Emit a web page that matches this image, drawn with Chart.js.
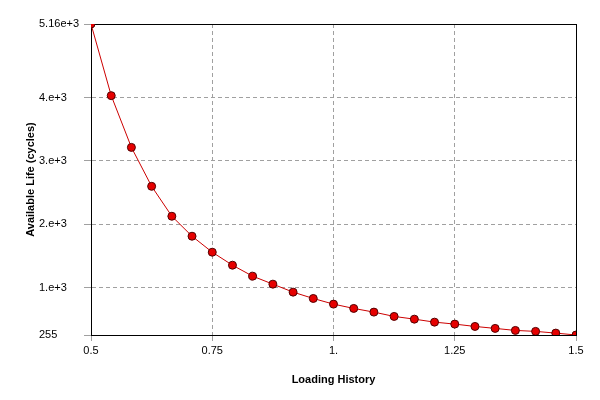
<!DOCTYPE html>
<html>
<head>
<meta charset="utf-8">
<script src="https://cdn.jsdelivr.net/npm/chart.js@4"></script>
<style>
  html, body { margin: 0; padding: 0; background: #fff; }
  #wrap { width: 600px; height: 400px; }
</style>
</head>
<body>
<div id="wrap"><canvas id="lifeChart"></canvas></div>
<script>
"use strict";

/* Data */
const loadingHistory = [0.5, 0.5417, 0.5833, 0.625, 0.6667, 0.7083, 0.75, 0.7917, 0.8333,
  0.875, 0.9167, 0.9583, 1.0, 1.0417, 1.0833, 1.125, 1.1667, 1.2083, 1.25, 1.2917,
  1.3333, 1.375, 1.4167, 1.4583, 1.5];
const availableLife = [5160, 4030, 3214, 2600, 2128, 1813, 1561, 1356, 1183, 1057, 931, 831,
  742, 674, 616, 548, 505, 458, 427, 390, 359, 327, 312, 285, 255];

const xTicks = [0.5, 0.75, 1, 1.25, 1.5];
const xTickLabels = ["0.5", "0.75", "1.", "1.25", "1.5"];
const yTicks = [255, 1000, 2000, 3000, 4000, 5160];
const yTickLabels = ["255", "1.e+3", "2.e+3", "3.e+3", "4.e+3", "5.16e+3"];

/* Black frame round the plot area */
const framePlugin = {
  id: "frame",
  beforeDatasetsDraw(chart) {
    const a = chart.chartArea;
    const ctx = chart.ctx;
    ctx.save();
    ctx.strokeStyle = "#000";
    ctx.lineWidth = 1;
    ctx.strokeRect(a.left + 0.5, a.top + 0.5, a.right - a.left, a.bottom - a.top);
    ctx.restore();
  }
};

function edgeTransparent(ticks) {
  return ctx => {
    const v = ctx.tick ? ctx.tick.value : null;
    return (v === ticks[0] || v === ticks[ticks.length - 1]) ? "rgba(0,0,0,0)" : "#a0a0a0";
  };
}

const points = loadingHistory.map((x, i) => ({ x: x, y: availableLife[i] }));

new Chart(document.getElementById("lifeChart"), {
  type: "line",
  data: {
    datasets: [{
      data: points,
      borderColor: "#cc0000",
      borderWidth: 1,
      backgroundColor: "#e60000",
      pointBackgroundColor: "#e60000",
      pointBorderColor: "#500000",
      pointBorderWidth: 1,
      pointRadius: 4,
      tension: 0
    }]
  },
  options: {
    responsive: true,
    maintainAspectRatio: false,
    animation: false,
    layout: { padding: { top: 24, right: 24, left: 39, bottom: 0 } },
    plugins: {
      legend: { display: false },
      tooltip: { enabled: false }
    },
    scales: {
      x: {
        type: "linear",
        min: 0.5,
        max: 1.5,
        afterBuildTicks: scale => { scale.ticks = xTicks.map(v => ({ value: v })); },
        afterFit: scale => { scale.height = 65; },
        ticks: {
          autoSkip: false,
          maxRotation: 0,
          color: "#000",
          font: { family: "Liberation Sans", size: 11 },
          padding: 3,
          callback: (v) => xTickLabels[xTicks.indexOf(v)]
        },
        grid: {
          color: edgeTransparent(xTicks),
          tickColor: "#a0a0a0",
          tickLength: 6
        },
        border: { color: "#000", dash: [4, 3] },
        title: {
          display: true,
          text: "Loading History",
          color: "#000",
          font: { family: "Liberation Sans", size: 11, weight: "bold" },
          padding: { top: 0, bottom: 13 }
        }
      },
      y: {
        type: "linear",
        min: 255,
        max: 5160,
        afterBuildTicks: scale => { scale.ticks = yTicks.map(v => ({ value: v })); },
        afterFit: scale => { scale.width = 52; },
        ticks: {
          autoSkip: false,
          crossAlign: "far",
          color: "#000",
          font: { family: "Liberation Sans", size: 11 },
          callback: (v) => yTickLabels[yTicks.indexOf(v)]
        },
        grid: {
          color: edgeTransparent(yTicks),
          tickColor: "#a0a0a0",
          tickLength: 7
        },
        border: { color: "#000", dash: [4, 3] },
        title: {
          display: true,
          text: "Available Life (cycles)",
          color: "#000",
          font: { family: "Liberation Sans", size: 11, weight: "bold" },
          padding: { top: -15, bottom: 0 }
        }
      }
    }
  },
  plugins: [framePlugin]
});
</script>
</body>
</html>
